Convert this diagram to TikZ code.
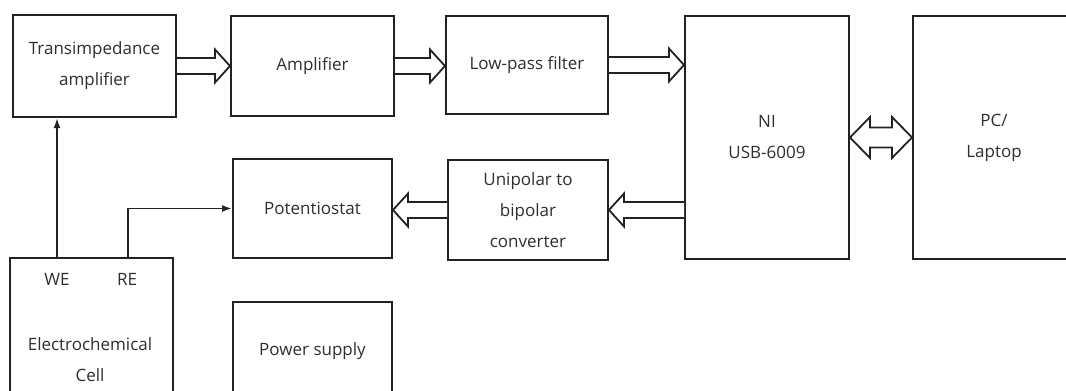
\documentclass[tikz,border=0pt]{standalone}
\usepackage{fontspec}
\setmainfont{Open Sans}
\usetikzlibrary{calc,arrows.meta}
\definecolor{linec}{HTML}{222222}
\definecolor{txtc}{HTML}{2e2e2e}
\newcommand\fatarrow[4]{%
  \draw[fat] let \p1=(#1), \p2=(#2), \p3=(#3) in
    (\x1,\y3+8pt) -- ({\x2-(#4)*15pt},\y3+8pt) -- ({\x2-(#4)*15pt},\y3+16.5pt) -- (\x2,\y3)
    -- ({\x2-(#4)*15pt},\y3-16.5pt) -- ({\x2-(#4)*15pt},\y3-8pt) -- (\x1,\y3-8pt);}
\begin{document}
\begin{tikzpicture}[x=1pt,y=-1pt,
  box/.style={draw=linec, line width=2pt, anchor=north west, inner sep=0pt, align=center, text=txtc, font=\fontsize{17}{31}\selectfont},
  lbl/.style={text=txtc, inner sep=0pt, align=center, font=\fontsize{17}{31}\selectfont},
  fat/.style={draw=linec, line width=1.8pt, fill=white, line join=miter},
  wire/.style={draw=linec, line width=1.8pt, -{Latex[length=10pt,width=7pt]}}
]
\useasboundingbox (0,0) rectangle (1066,391);
\clip (0,0) rectangle (1066,391);
\node[box, minimum width=163pt, minimum height=102pt] (tia) at (12,14) {Transimpedance\\amplifier};
\node[box, minimum width=163pt, minimum height=100pt] (amp) at (230,15) {Amplifier};
\node[box, minimum width=162pt, minimum height=98pt] (lpf) at (445,15) {Low-pass filter};
\node[box, minimum width=164pt, minimum height=243pt] (ni) at (684,15) {NI\\USB-6009};
\node[box, minimum width=162pt, minimum height=243pt] (pc) at (912,15) {PC/\\Laptop};
\node[box, minimum width=159pt, minimum height=99pt] (pot) at (232,158) {Potentiostat};
\node[box, minimum width=160pt, minimum height=100pt] (unip) at (447,159) {Unipolar to\\bipolar\\converter};
\node[box, minimum width=163pt, minimum height=160pt] (ec) at (9,257) {};
\node[box, minimum width=159pt, minimum height=98pt] (ps) at (232,301) {Power supply};
\node[lbl] (we) at (57,279) {WE};
\node[lbl] (re) at (127,279) {RE};
\node[lbl] (ectxt) at (90,360) {Electrochemical\\Cell};
% fat arrows
\fatarrow{tia.east}{amp.west}{tia.east}{1}
\fatarrow{amp.east}{lpf.west}{amp.east}{1}
\fatarrow{lpf.east}{ni.west}{lpf.east}{1}
\fatarrow{ni.west}{unip.east}{unip.east}{-1}
\fatarrow{unip.west}{pot.east}{unip.west}{-1}
\draw[fat] let \p1=(ni.east), \p2=(pc.west) in
  (\x1,\y1) -- (\x1+20pt,\y1+20.5pt) -- (\x1+20pt,\y1+10pt) -- (\x2-20pt,\y1+10pt)
  -- (\x2-20pt,\y1+20.5pt) -- (\x2,\y1) -- (\x2-20pt,\y1-20.5pt) -- (\x2-20pt,\y1-10pt)
  -- (\x1+20pt,\y1-10pt) -- (\x1+20pt,\y1-20.5pt) -- cycle;
% wires
\draw[wire] (we.north |- ec.north) -- (we.north |- tia.south);
\draw[wire] ([xshift=1pt]re.north |- ec.north) -- ([xshift=1pt]re.north |- pot.west) -- (pot.west);
\end{tikzpicture}
\end{document}
